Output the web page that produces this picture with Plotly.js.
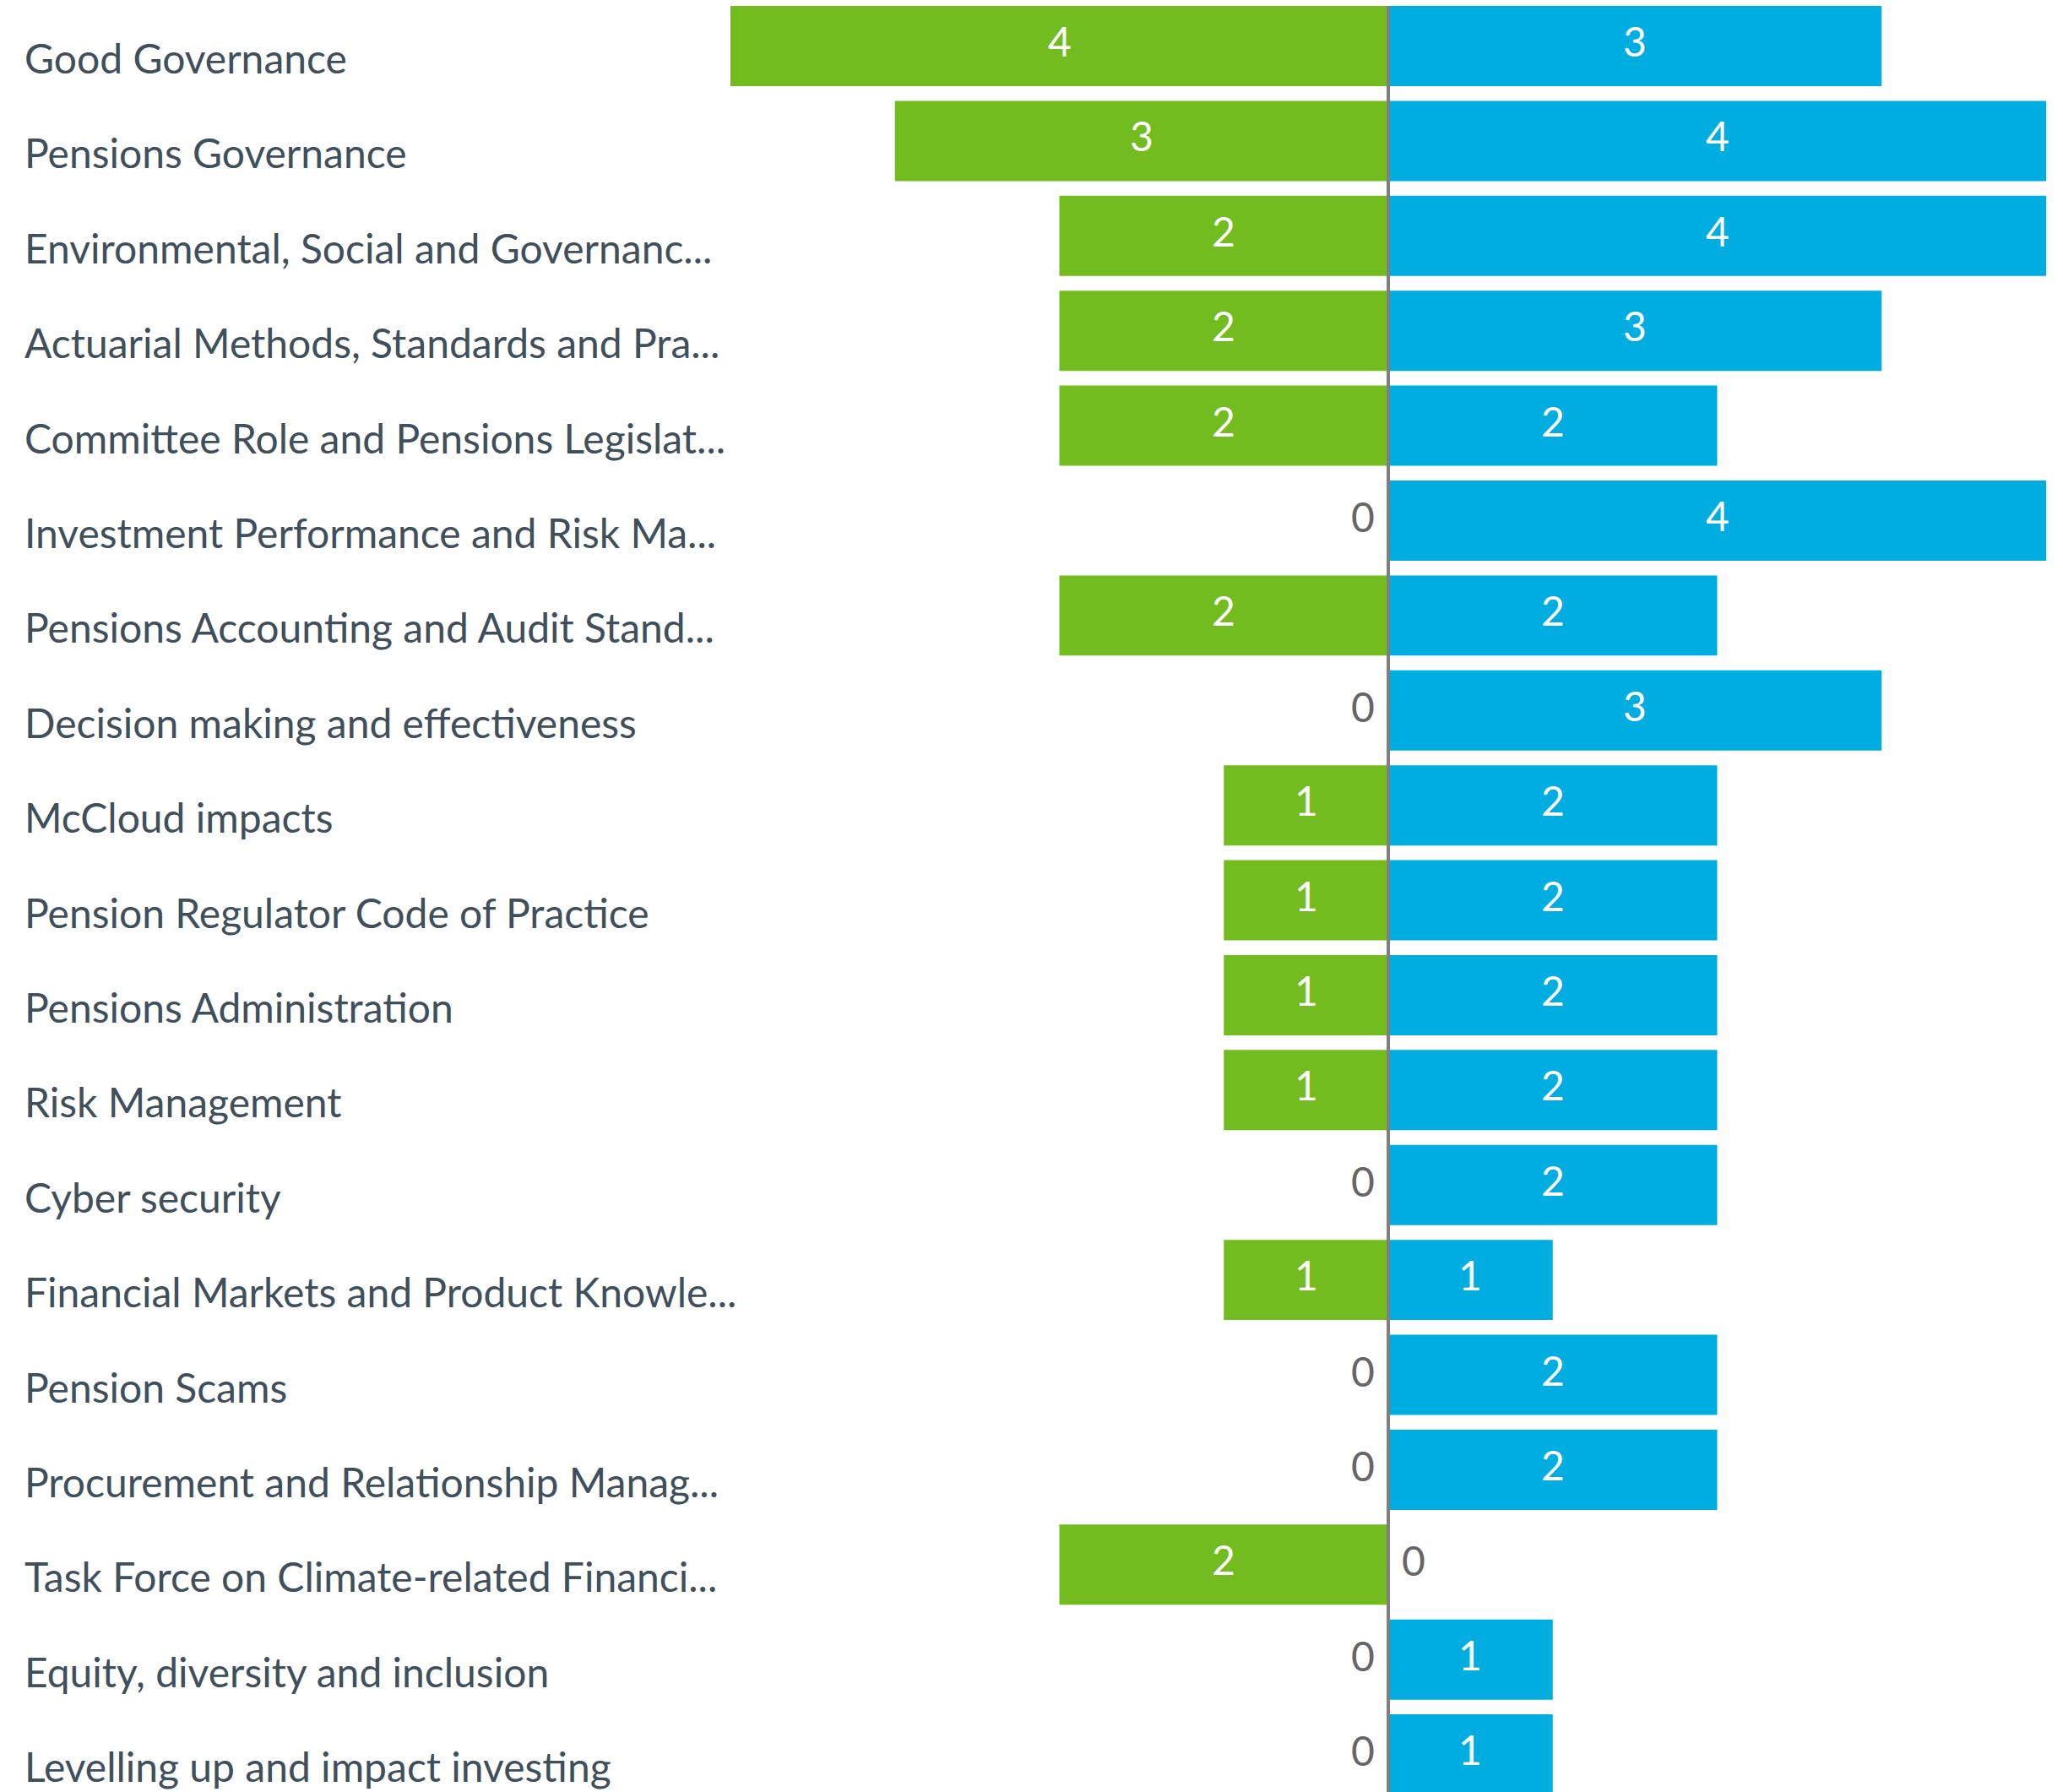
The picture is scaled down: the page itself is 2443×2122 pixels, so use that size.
<!DOCTYPE html>
<html>
<head>
<meta charset="utf-8">
<script src="https://cdn.plot.ly/plotly-3.0.1.min.js"></script>
<style>
  html, body { margin: 0; padding: 0; background: #ffffff; overflow: hidden; }
  #chart { width: 2443px; height: 2122px; }
</style>
</head>
<body>
<div id="chart"></div>
<script>
const categories = [
  "Good Governance",
  "Pensions Governance",
  "Environmental, Social and Governanc...",
  "Actuarial Methods, Standards and Pra...",
  "Committee Role and Pensions Legislat...",
  "Investment Performance and Risk Ma...",
  "Pensions Accounting and Audit Stand...",
  "Decision making and effectiveness",
  "McCloud impacts",
  "Pension Regulator Code of Practice",
  "Pensions Administration",
  "Risk Management",
  "Cyber security",
  "Financial Markets and Product Knowle...",
  "Pension Scams",
  "Procurement and Relationship Manag...",
  "Task Force on Climate-related Financi...",
  "Equity, diversity and inclusion",
  "Levelling up and impact investing"
];
const greenValues = [4, 3, 2, 2, 2, 0, 2, 0, 1, 1, 1, 1, 0, 1, 0, 0, 2, 0, 0];
const blueValues  = [3, 4, 4, 3, 2, 4, 2, 3, 2, 2, 2, 2, 2, 1, 2, 2, 0, 1, 1];

const GREEN = "#73bc1f";
const BLUE = "#00ade1";
const LABEL_FONT = "Lato, 'Segoe UI', 'Open Sans', sans-serif";

const traces = [
  {
    type: "bar",
    orientation: "h",
    y: categories,
    x: greenValues.map(v => -v),
    marker: { color: GREEN },
    hoverinfo: "skip"
  },
  {
    type: "bar",
    orientation: "h",
    y: categories,
    x: blueValues,
    marker: { color: BLUE },
    hoverinfo: "skip"
  }
];

const annotations = [];
categories.forEach((c, i) => {
  annotations.push({
    xref: "paper", yref: "y",
    x: (27 - 865) / 1558, y: c,
    xanchor: "left", yanchor: "middle",
    text: c, showarrow: false, yshift: -14,
    font: { size: 48, color: "#3f4f5b", family: LABEL_FONT }
  });
  const g = greenValues[i], b = blueValues[i];
  if (g === 0) {
    annotations.push({
      xref: "x", yref: "y", x: 0, y: c,
      xanchor: "right", yanchor: "middle",
      text: "0", showarrow: false, xshift: -14, yshift: 5,
      font: { size: 48, color: "#666666", family: LABEL_FONT }
    });
  } else {
    annotations.push({
      xref: "x", yref: "y", x: -g / 2, y: c,
      xanchor: "center", yanchor: "middle",
      text: String(g), showarrow: false, yshift: 6,
      font: { size: 48, color: "#ffffff", family: LABEL_FONT }
    });
  }
  if (b === 0) {
    annotations.push({
      xref: "x", yref: "y", x: 0, y: c,
      xanchor: "left", yanchor: "middle",
      text: "0", showarrow: false, xshift: 14, yshift: 5,
      font: { size: 48, color: "#666666", family: LABEL_FONT }
    });
  } else {
    annotations.push({
      xref: "x", yref: "y", x: b / 2, y: c,
      xanchor: "center", yanchor: "middle",
      text: String(b), showarrow: false, yshift: 6,
      font: { size: 48, color: "#ffffff", family: LABEL_FONT }
    });
  }
});

const layout = {
  width: 2443,
  height: 2122,
  margin: { l: 865, r: 20, t: 0, b: 0, pad: 0 },
  paper_bgcolor: "#ffffff",
  plot_bgcolor: "#ffffff",
  showlegend: false,
  barmode: "relative",
  bargap: 0.155,
  xaxis: {
    range: [-4, 4],
    showgrid: false, zeroline: false, showticklabels: false, ticks: "",
    fixedrange: true
  },
  yaxis: {
    type: "category",
    categoryorder: "array",
    categoryarray: categories,
    range: [18.395, -0.485],
    showgrid: false, zeroline: false, showticklabels: false, ticks: "",
    fixedrange: true
  },
  shapes: [{
    type: "line", xref: "x", yref: "paper",
    x0: 0, x1: 0, y0: 0, y1: 1 - 7 / 2122,
    line: { color: "#7f7f7f", width: 4 },
    layer: "above"
  }],
  annotations: annotations
};

Plotly.newPlot("chart", traces, layout, { displayModeBar: false, staticPlot: true });
</script>
</body>
</html>
